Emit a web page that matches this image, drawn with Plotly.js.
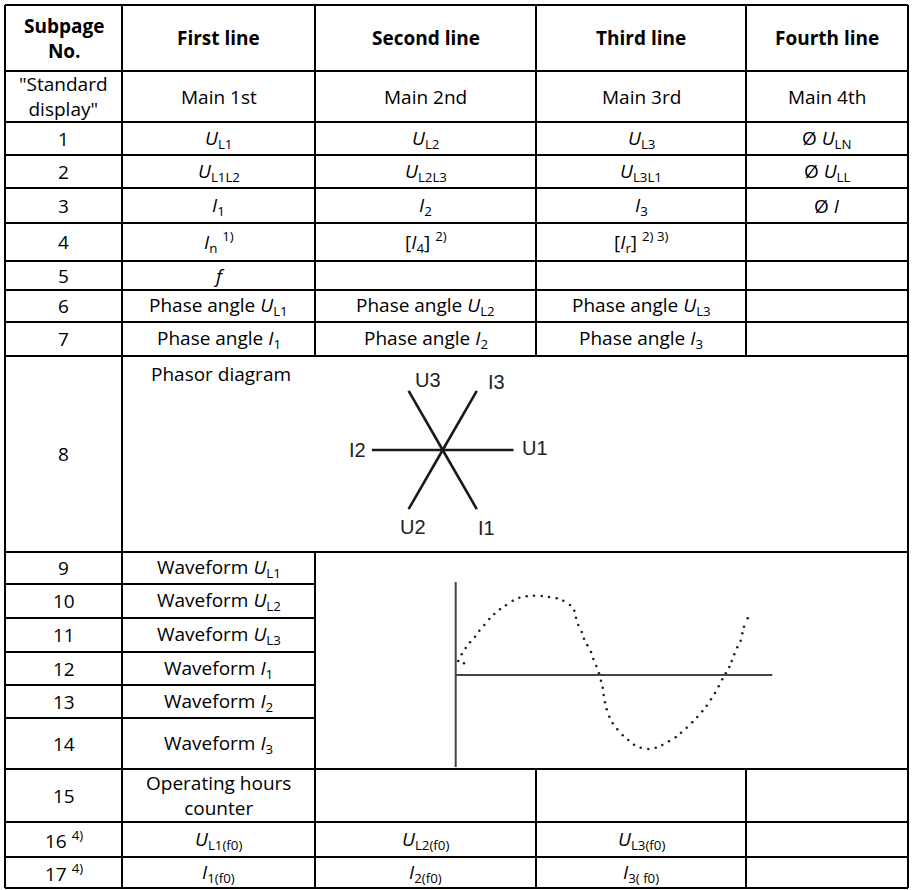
<!DOCTYPE html>
<html>
<head>
<meta charset="utf-8">
<script src="https://cdn.plot.ly/plotly-3.0.1.min.js"></script>
<style>body{margin:0;background:#fff}</style>
</head>
<body>
<div id="chart" style="width:912px;height:890px"></div>
<script>
// table cell texts, one array per column, one entry per row (header, standard display, subpages 1..17)
var subpageNo = ['<b>Subpage<br>No.</b>', '"Standard<br>display"', '1', '2', '3', '4', '5', '6', '7', '8',
    '9', '10', '11', '12', '13', '14', '15', '16 <sup>4)</sup>', '17 <sup>4)</sup>'];
var firstLine = ['<b>First line</b>', 'Main 1st', '<i>U</i><sub>L1</sub>', '<i>U</i><sub>L1L2</sub>', '<i>I</i><sub>1</sub>',
    '<i>I</i><sub>n</sub> <sup>1)</sup>', '<i>f</i>', 'Phase angle <i>U</i><sub>L1</sub>', 'Phase angle <i>I</i><sub>1</sub>',
    'Phasor diagram', 'Waveform <i>U</i><sub>L1</sub>', 'Waveform <i>U</i><sub>L2</sub>', 'Waveform <i>U</i><sub>L3</sub>',
    'Waveform <i>I</i><sub>1</sub>', 'Waveform <i>I</i><sub>2</sub>', 'Waveform <i>I</i><sub>3</sub>',
    'Operating hours<br>counter', '<i>U</i><sub>L1(f0)</sub>', '<i>I</i><sub>1(f0)</sub>'];
var secondLine = ['<b>Second line</b>', 'Main 2nd', '<i>U</i><sub>L2</sub>', '<i>U</i><sub>L2L3</sub>', '<i>I</i><sub>2</sub>',
    '[<i>I</i><sub>4</sub>] <sup>2)</sup>', '', 'Phase angle <i>U</i><sub>L2</sub>', 'Phase angle <i>I</i><sub>2</sub>',
    '', '', '', '', '', '', '', '', '<i>U</i><sub>L2(f0)</sub>', '<i>I</i><sub>2(f0)</sub>'];
var thirdLine = ['<b>Third line</b>', 'Main 3rd', '<i>U</i><sub>L3</sub>', '<i>U</i><sub>L3L1</sub>', '<i>I</i><sub>3</sub>',
    '[<i>I</i><sub>r</sub>] <sup>2) 3)</sup>', '', 'Phase angle <i>U</i><sub>L3</sub>', 'Phase angle <i>I</i><sub>3</sub>',
    '', '', '', '', '', '', '', '', '<i>U</i><sub>L3(f0)</sub>', '<i>I</i><sub>3( f0)</sub>'];
var fourthLine = ['<b>Fourth line</b>', 'Main 4th', 'Ø <i>U</i><sub>LN</sub>', 'Ø <i>U</i><sub>LL</sub>', 'Ø <i>I</i>',
    '', '', '', '', '', '', '', '', '', '', '', '', '', ''];

// phasor diagram (subpage 8)
var phasorNames = ['U1', 'I3', 'U3', 'I2', 'U2', 'I1'];
var phasorAngles = [0, 60, 120, 180, 240, 300];
var phasorLengths = [1, 0.96, 0.96, 1, 0.96, 0.96];

// waveform sketch (subpages 9..14), dots
var waveT = [2.6, 8.3, 6, 10, 14.3, 19.3, 23.6, 28.6, 33.6, 38.6, 44.3, 50.3, 57, 63.6, 71, 78.3, 86, 93.3, 101, 107.6,
    114.3, 118.6, 120.3, 122.6, 126, 128.3, 131.6, 135.3, 137.6, 140.6, 143.3, 145.3, 147, 148, 149.3, 151, 153.6, 157,
    161.6, 167, 172.6, 178.3, 185, 192.6, 200, 206.6, 213.3, 220, 225.3, 231, 236.6, 241.6, 246.6, 251, 255.3, 259.3,
    263, 266.6, 270, 273.6, 276, 278.6, 281.6, 285, 286.6, 288.3, 292];
var waveV = [14, 11.7, 20.7, 27, 32.7, 38.3, 44.3, 50, 56, 61, 65.7, 69.7, 74.3, 77.3, 78.7, 79.3, 79, 78, 76.7, 74.3,
    70, 64.3, 57.3, 50, 43, 36.3, 29.7, 23, 16, 9, 1.7, -5.7, -12.7, -20, -27.3, -34.3, -41.7, -48.3, -54.3, -60.3,
    -65, -69.7, -72.7, -74, -72.7, -70, -66.3, -62.3, -57.7, -52.7, -47.3, -42, -36.3, -30.7, -24.3, -18, -11.3, -4.3,
    1.7, 8, 14, 20.7, 27.7, 34.3, 41.7, 48.3, 56.7];

var W = 912, H = 890;
var colX = [5, 122, 315, 536, 746, 908];
var rowY = [5, 71, 122, 155, 188, 223, 261, 290, 322, 356, 552, 584, 618, 652, 685, 718, 769, 822, 857, 888];
var columns = [subpageNo, firstLine, secondLine, thirdLine, fourthLine];
var textFont = {family: 'Open Sans', size: 19, color: '#000'};
var ink = '#1a1a1a';

var shapes = [];
function seg(x0, y0, x1, y1) {
    shapes.push({type: 'line', xref: 'x', yref: 'y', x0: x0, y0: y0, x1: x1, y1: y1,
        line: {color: '#000', width: 2}});
}
// horizontal rules; rows 9..14 only split the first two columns
rowY.forEach(function (y, i) {
    if (i >= 11 && i <= 15) seg(colX[0], y, colX[2], y);
    else seg(colX[0], y, colX[5], y);
});
// vertical rules
seg(colX[0], rowY[0], colX[0], rowY[19]);
seg(colX[1], rowY[0], colX[1], rowY[19]);
seg(colX[5], rowY[0], colX[5], rowY[19]);
seg(colX[2], rowY[0], colX[2], rowY[9]);
seg(colX[2], rowY[10], colX[2], rowY[19]);
[3, 4].forEach(function (c) {
    seg(colX[c], rowY[0], colX[c], rowY[9]);
    seg(colX[c], rowY[16], colX[c], rowY[19]);
});
// waveform axes
shapes.push({type: 'line', xref: 'x3', yref: 'y3', x0: 0, y0: 93, x1: 0, y1: -92, line: {color: '#444', width: 2}});
shapes.push({type: 'line', xref: 'x3', yref: 'y3', x0: 0, y0: 0, x1: 316.6, y1: 0, line: {color: '#444', width: 2}});

var annotations = [];
columns.forEach(function (col, c) {
    col.forEach(function (txt, r) {
        if (!txt) return;
        var a = {xref: 'x', yref: 'y', showarrow: false, text: txt, font: textFont,
            x: (colX[c] + colX[c + 1]) / 2, y: (rowY[r] + rowY[r + 1]) / 2, align: 'center'};
        if (r === 9 && c === 1) { a.x = 221; a.y = rowY[9] + 3; a.yanchor = 'top'; }
        annotations.push(a);
    });
});

// phasor label offsets in px
var labelShift = {U1: [21, 2], I3: [20, 9], U3: [19, 11], I2: [-14, 0], U2: [4, -18], I1: [10, -19]};
var traces = [];
phasorNames.forEach(function (n, i) {
    var a = phasorAngles[i] * Math.PI / 180;
    var ex = phasorLengths[i] * Math.cos(a), ey = phasorLengths[i] * Math.sin(a);
    traces.push({type: 'scatter', mode: 'lines', x: [0, ex], y: [0, ey], xaxis: 'x2', yaxis: 'y2',
        line: {color: ink, width: 2.6}, hoverinfo: 'skip'});
    annotations.push({xref: 'x2', yref: 'y2', x: ex, y: ey, text: n, showarrow: false,
        xshift: labelShift[n][0], yshift: labelShift[n][1],
        font: {family: 'Liberation Sans', size: 20, color: '#222'}});
});

traces.push({type: 'scatter', mode: 'markers', x: waveT, y: waveV, xaxis: 'x3', yaxis: 'y3',
    marker: {color: '#222', size: 2.6}, hoverinfo: 'skip'});

var cx = 442.7, cy = 450, R = 71;
var layout = {
    width: W, height: H,
    margin: {l: 0, r: 0, t: 0, b: 0},
    paper_bgcolor: '#fff', plot_bgcolor: 'rgba(0,0,0,0)',
    showlegend: false,
    xaxis: {range: [0, W], visible: false, fixedrange: true},
    yaxis: {range: [H, 0], visible: false, fixedrange: true},
    xaxis2: {domain: [(cx - R) / W, (cx + R) / W], range: [-1, 1], anchor: 'y2', visible: false},
    yaxis2: {domain: [1 - (cy + R) / H, 1 - (cy - R) / H], range: [-1, 1], anchor: 'x2', visible: false},
    xaxis3: {domain: [445.7 / W, 775.7 / W], range: [-10, 320], anchor: 'y3', visible: false},
    yaxis3: {domain: [1 - 775 / H, 1 - 575 / H], range: [-100, 100], anchor: 'x3', visible: false},
    shapes: shapes,
    annotations: annotations
};

Plotly.newPlot('chart', traces, layout, {displayModeBar: false});
</script>
</body>
</html>
